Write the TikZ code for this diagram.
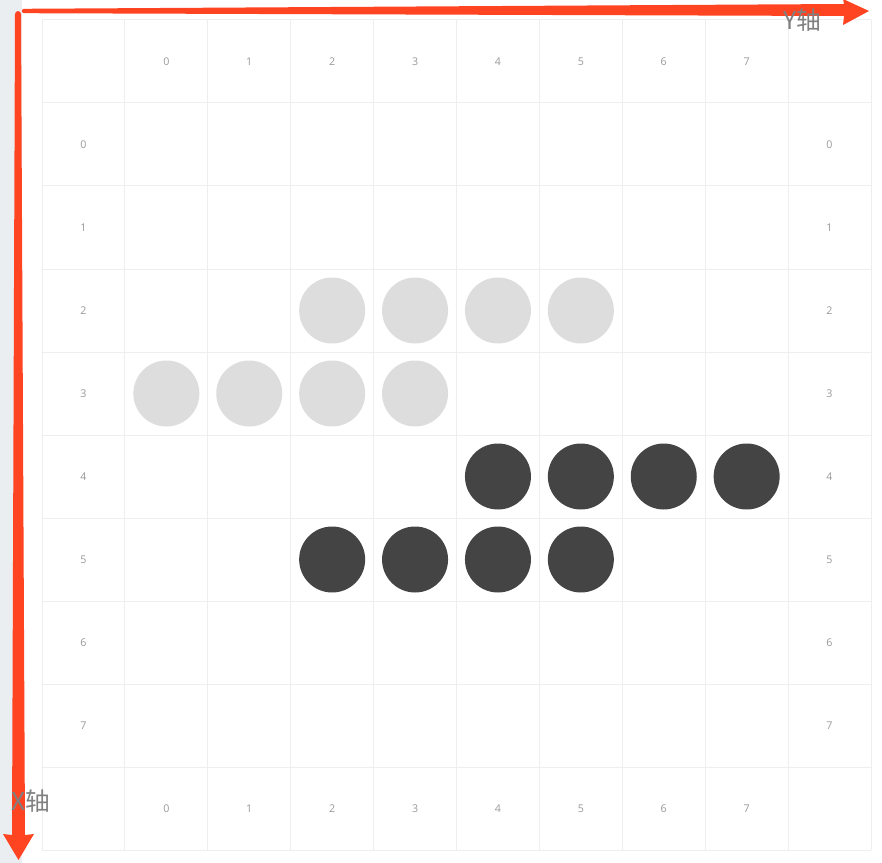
\documentclass[tikz,border=0pt]{standalone}
\usepackage{fontspec}
\setmainfont{Open Sans}
\newfontfamily\cjk{Noto Sans CJK SC}
\definecolor{gridc}{HTML}{EEEEEE}
\definecolor{labc}{HTML}{999999}
\definecolor{stripc}{HTML}{EBEEF1}
\definecolor{lightstone}{HTML}{DDDDDD}
\definecolor{darkstone}{HTML}{444444}
\definecolor{arrowred}{RGB}{255,68,34}
\definecolor{axistext}{HTML}{808080}
\tikzset{
  gridline/.style={draw=gridc, line width=0.75pt},
  numlabel/.style={font=\fontsize{8pt}{9pt}\selectfont, text=labc, inner sep=0pt},
  stonebase/.style={circle, minimum size=49.5pt, inner sep=0pt, draw=none},
  lightst/.style={stonebase, fill=lightstone},
  darkst/.style={stonebase, fill=darkstone},
  axislabel/.style={font=\cjk\fontsize{18.5pt}{20pt}\selectfont, text=axistext, inner sep=0pt},
  redarrow/.style={fill=arrowred, draw=none}
}
\begin{document}
\begin{tikzpicture}[x=0.75pt,y=-0.75pt]
\useasboundingbox (0,0) rectangle (882,863);
\fill[white] (0,0) rectangle (882,863);
\fill[stripc] (0,0) rectangle (22,863);
% grid
\foreach \i in {0,...,10} {
  \draw[gridline] ({42+82.9*\i},20) -- ({42+82.9*\i},850);
  \draw[gridline] (42,{20+83*\i}) -- (871,{20+83*\i});
}
% labels
\foreach \k in {0,...,7} {
  \node[numlabel] (top\k) at ({42+82.9*(\k+1.5)},61.5) {\k};
  \node[numlabel] (bot\k) at ({42+82.9*(\k+1.5)},808.5) {\k};
  \node[numlabel] (left\k) at (83.5,{20+83*(\k+1.5)}) {\k};
  \node[numlabel] (right\k) at (829.5,{20+83*(\k+1.5)}) {\k};
}
% stones: (row, col)
\foreach \r/\c in {2/2,2/3,2/4,2/5,3/0,3/1,3/2,3/3} {
  \node[lightst] (s\r\c) at ({42+82.9*(\c+1.5)},{20+83*(\r+1.5)}) {};
}
\foreach \r/\c in {4/4,4/5,4/6,4/7,5/2,5/3,5/4,5/5} {
  \node[darkst] (s\r\c) at ({42+82.9*(\c+1.5)},{20+83*(\r+1.5)}) {};
}
% red arrows
\fill[redarrow] (24,11) circle[radius=1.6pt];
\fill[redarrow] (24,8.8) -- (844,4) -- (843,-1) -- (869,11) -- (843,25) -- (844,16) -- (24,13.2) -- cycle;
\fill[redarrow] (18,14) circle[radius=2.2pt];
\fill[redarrow] (15,14) -- (12,835) -- (3,834) -- (18.5,860) -- (34,834) -- (25,835) -- (21,14) -- cycle;
% axis labels
\node[axislabel] (ylab) at (802,20) {Y轴};
\node[axislabel] (xlab) at (31,801) {X轴};
\end{tikzpicture}
\end{document}
